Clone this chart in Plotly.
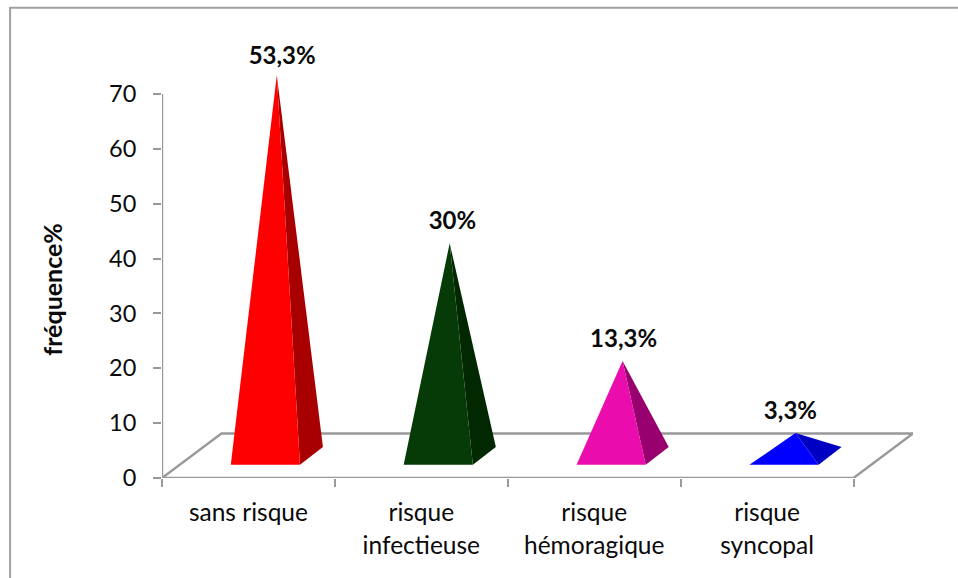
import plotly.graph_objects as go

# Data
categories_line1 = ["sans risque", "risque", "risque", "risque"]
categories_line2 = ["", "infectieuse", "hémoragique", "syncopal"]
heights = [69.4, 38.8, 17.3, 4.2]
percent_labels = ["53,3%", "30%", "13,3%", "3,3%"]
y_ticks = [0, 10, 20, 30, 40, 50, 60, 70]
y_title = "fréquence%"

# Style
front_colors = ["#FF0000", "#063A06", "#EA0CAC", "#0000FF"]
side_colors = ["#A80000", "#022802", "#99006F", "#0000C2"]
GREY = "#999999"
TEXT = "#0a0a0a"
FONT = "Lato"

# Layout geometry of the emulated 3D box (axis units)
W, H = 958, 578
L, R, T, B = 161.5, 45, 38.8, 100.3
X_MAX, Y_MAX = 4.344, 80
n = len(heights)
FLOOR_DX, FLOOR_DY = 0.344, 8.1
LEFT, RIGHT, BACK_RIGHT, APEX = 0.398, 0.798, 0.931, 0.664
BASE_FRONT_Y, BASE_BACK_Y, APEX_LIFT = 2.4, 5.65, 4.0
label_dx = [0.695 - APEX, 0.68 - APEX, 0.67 - APEX, 0.635 - APEX]
label_dy = [3.1, 3.6, 3.6, 3.7]

fig = go.Figure()


def line(xs, ys):
    fig.add_trace(go.Scatter(x=xs, y=ys, mode="lines", cliponaxis=False, hoverinfo="skip",
                             line=dict(color=GREY, width=2.4), showlegend=False))


# Floor and axes
line([0, FLOOR_DX, n + FLOOR_DX, n], [0, FLOOR_DY, FLOOR_DY, 0])
line([0, 0], [0, y_ticks[-1]])
line([0, n], [0, 0])

# Pyramids
for i, h in enumerate(heights):
    top = h + APEX_LIFT
    fig.add_trace(go.Scatter(
        x=[i + RIGHT, i + BACK_RIGHT, i + APEX, i + RIGHT],
        y=[BASE_FRONT_Y, BASE_BACK_Y, top, BASE_FRONT_Y],
        fill="toself", fillcolor=side_colors[i], mode="lines",
        line=dict(width=0, color=side_colors[i]), showlegend=False, name=categories_line1[i]))
    fig.add_trace(go.Scatter(
        x=[i + LEFT, i + RIGHT, i + APEX, i + LEFT],
        y=[BASE_FRONT_Y, BASE_FRONT_Y, top, BASE_FRONT_Y],
        fill="toself", fillcolor=front_colors[i], mode="lines",
        line=dict(width=0, color=front_colors[i]), showlegend=False, name=categories_line1[i]))

# Percentage labels
fig.add_trace(go.Scatter(
    x=[i + APEX + label_dx[i] for i in range(n)],
    y=[heights[i] + APEX_LIFT + label_dy[i] for i in range(n)],
    mode="text", text=percent_labels, textposition="middle center", cliponaxis=False,
    textfont=dict(family=FONT, size=24, color=TEXT, weight="bold"),
    showlegend=False, hoverinfo="skip", xaxis="x2"))

centers = [i + 0.5 for i in range(n)]
fig.update_layout(
    width=W, height=H, autosize=False,
    margin=dict(l=L, r=R, t=T, b=B, pad=0),
    paper_bgcolor="white", plot_bgcolor="rgba(0,0,0,0)",
    font=dict(family=FONT, color=TEXT),
    xaxis=dict(
        range=[0, X_MAX], showgrid=False, zeroline=False, showline=False,
        tickmode="array", tickvals=centers, ticktext=categories_line1,
        ticks="", ticklabelstandoff=17, tickfont=dict(family=FONT, size=24.5, color=TEXT),
        minor=dict(tickmode="array", tickvals=list(range(n + 1)), ticks="outside",
                   ticklen=8, tickwidth=2, tickcolor=GREY),
    ),
    xaxis2=dict(
        range=[0, X_MAX], overlaying="x", side="bottom", anchor="y",
        showgrid=False, zeroline=False, showline=False,
        tickmode="array", tickvals=centers, ticktext=categories_line2,
        ticks="", ticklabelstandoff=50, tickfont=dict(family=FONT, size=24.5, color=TEXT),
    ),
    yaxis=dict(
        range=[0, Y_MAX], showgrid=False, zeroline=False, showline=False,
        tickmode="array", tickvals=y_ticks, ticks="outside", ticklen=8, tickwidth=2,
        tickcolor=GREY, ticklabelstandoff=12, tickfont=dict(family=FONT, size=23.5, color=TEXT),
    ),
    annotations=[dict(
        text=y_title, textangle=-90, showarrow=False, xref="paper", yref="paper",
        x=(52 - L) / (W - L - R), y=(H - B - 289) / (H - T - B),
        xanchor="center", yanchor="middle",
        font=dict(family=FONT, size=25, color=TEXT, weight="bold"))],
    shapes=[dict(
        type="path", xref="paper", yref="paper",
        path="M {x0} {y1} L {x0} {y0} L {x1} {y0}".format(
            x0=(9.5 - L) / (W - L - R), x1=(W - L) / (W - L - R),
            y0=(H - 7.5 - B) / (H - T - B), y1=(-B) / (H - T - B)),
        line=dict(color="#A0A0A0", width=2))],
)

fig.write_html("out.html", config={"displayModeBar": False},
               post_script="document.body.style.margin='0';")
